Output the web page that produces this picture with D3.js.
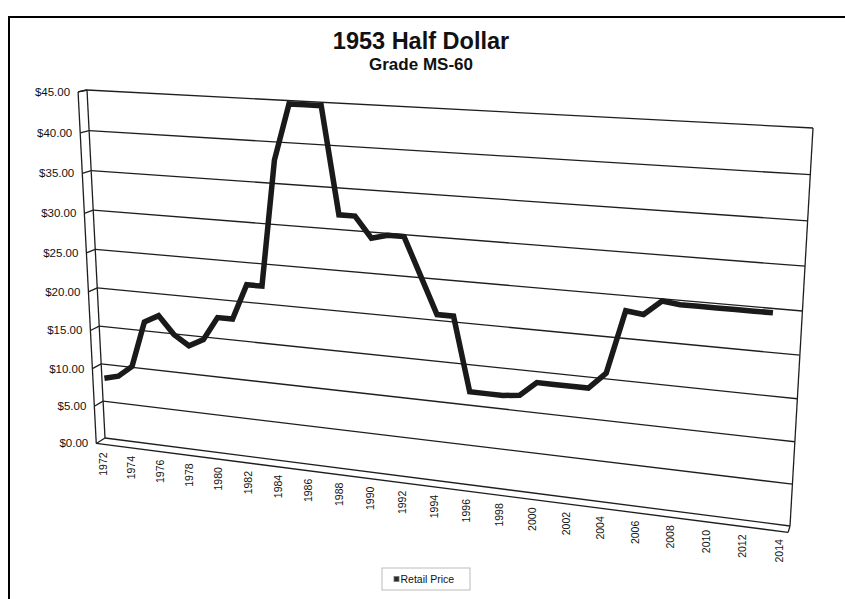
<!DOCTYPE html>
<html><head><meta charset="utf-8">
<script src="https://cdn.jsdelivr.net/npm/d3@7"></script>
<style>body{margin:0;background:#fff}svg{display:block}</style>
</head><body>
<svg id="c" width="845" height="599"></svg>
<script>
// ---------- data ----------
const years = ["1972","1973","1974","1975","1976","1977","1978","1979","1980","1981",
  "1982","1983","1984","1985","1986","1987","1988","1989","1990","1991",
  "1992","1993","1994","1995","1996","1997","1998","1999","2000","2001",
  "2002","2003","2004","2005","2006","2007","2008","2009","2010","2011",
  "2012","2013","2014"];
// Retail price, 1972 - 2013 (no value plotted for 2014)
const retailPrice = [8.5, 9, 10.5, 16.5, 17.5, 15.25, 14, 15, 18, 18,
  22.5, 22.5, 38, 44.75, 44.75, 44.75, 32, 32, 29.5, 30,
  30, 25.5, 21, 21, 12, 12, 12, 12.25, 14, 14,
  14, 14, 16, 23.5, 23.25, 25, 24.75, 24.75, 24.75, 24.75,
  24.75, 24.75];
const priceTicks = [0, 5, 10, 15, 20, 25, 30, 35, 40, 45];
const yearTickLabels = years.filter((d, i) => i % 2 === 0);
const chartTitle = "1953 Half Dollar";
const chartSubtitle = "Grade MS-60";
const seriesName = "Retail Price";

// ---------- layout (perspective back wall) ----------
const wallTL = [87, 90], wallTR = [813, 128], wallBR = [790, 526], wallBL = [105, 438];
const vanish = [979, -108];
const depthK = 0.01;

function squareToQuad(p0, p1, p2, p3) {
  const [x0, y0] = p0, [x1, y1] = p1, [x2, y2] = p2, [x3, y3] = p3;
  const dx1 = x1 - x2, dx2 = x3 - x2, dx3 = x0 - x1 + x2 - x3;
  const dy1 = y1 - y2, dy2 = y3 - y2, dy3 = y0 - y1 + y2 - y3;
  const det = dx1 * dy2 - dx2 * dy1;
  const g = (dx3 * dy2 - dx2 * dy3) / det, h = (dx1 * dy3 - dx3 * dy1) / det;
  const a = x1 - x0 + g * x1, b = x3 - x0 + h * x3, c = x0;
  const d = y1 - y0 + g * y1, e = y3 - y0 + h * y3, f = y0;
  return (s, t) => { const w = g * s + h * t + 1; return [(a * s + b * t + c) / w, (d * s + e * t + f) / w]; };
}
const back = squareToQuad(wallTL, wallTR, wallBR, wallBL);
function project(s, t, z) {
  const p = back(s, t);
  const k = z * depthK;
  return [p[0] + k * (p[0] - vanish[0]), p[1] + k * (p[1] - vanish[1])];
}

// scales: category -> s in [0,1], value -> t in [0,1]
const xs = d3.scaleBand().domain(years).range([0, 1]).paddingInner(0).paddingOuter(0);
const ys = d3.scaleLinear().domain([0, 45]).range([1, 0]);
const sc = c => xs(c) + xs.bandwidth() / 2;

const svg = d3.select("#c");
const ink = "#1e1e1e";
const font = "Liberation Sans, Arial, Helvetica, sans-serif";

// outer border
svg.append("rect").attr("x", 9).attr("y", 17).attr("width", 900).attr("height", 700)
  .attr("fill", "none").attr("stroke", "#000").attr("stroke-width", 2);

// titles
svg.append("text").attr("x", 421).attr("y", 49).attr("text-anchor", "middle")
  .attr("font-family", font).attr("font-weight", "bold")
  .attr("font-size", 23.5).attr("fill", "#111").text(chartTitle);
svg.append("text").attr("x", 421).attr("y", 70).attr("text-anchor", "middle")
  .attr("font-family", font).attr("font-weight", "bold")
  .attr("font-size", 17).attr("fill", "#111").text(chartSubtitle);

const seg = (a, b) => svg.append("line").attr("x1", a[0]).attr("y1", a[1]).attr("x2", b[0]).attr("y2", b[1])
  .attr("stroke", ink).attr("stroke-width", 1.3);

// gridlines on back wall and left side wall
priceTicks.forEach(v => {
  const t = ys(v);
  seg(project(0, t, 1), project(0, t, 0));
  seg(project(0, t, 0), project(1, t, 0));
});
// wall / floor edges
seg(project(0, 0, 0), project(0, 1, 0));
seg(project(1, 0, 0), project(1, 1, 0));
seg(project(0, 0, 1), project(0, 1, 1));
seg(project(0, 0, 1), project(0, 0, 0));
seg(project(0, 1, 1), project(1, 1, 1));
seg(project(1, 1, 1), project(1, 1, 0));

// y labels
svg.append("g").selectAll("text").data(priceTicks).join("text")
  .attr("x", d => project(0, ys(d), 1)[0] - 8)
  .attr("y", d => project(0, ys(d), 1)[1])
  .attr("dy", "0.35em").attr("text-anchor", "end")
  .attr("font-family", font).attr("font-size", 11.5).attr("fill", "#111")
  .text(d => "$" + d3.format(".2f")(d));

// x labels (rotated)
svg.append("g").selectAll("text").data(yearTickLabels).join("text")
  .attr("transform", d => { const p = project(sc(d), 1, 1); return `translate(${p[0]},${p[1] + 8}) rotate(-90)`; })
  .attr("dy", "0.35em").attr("text-anchor", "end")
  .attr("font-family", font).attr("font-size", 10.5).attr("fill", "#111")
  .text(d => d);

// series line at mid depth
const pts = retailPrice.map((v, i) => project(sc(years[i]), ys(v), 0.5));
svg.append("path").attr("d", d3.line()(pts)).attr("fill", "none")
  .attr("stroke", "#1a1a1a").attr("stroke-width", 5.5).attr("stroke-linejoin", "miter").attr("stroke-miterlimit", 3);

// legend
svg.append("rect").attr("x", 382).attr("y", 568).attr("width", 88).attr("height", 22)
  .attr("fill", "#fff").attr("stroke", "#bbb").attr("stroke-width", 1);
svg.append("rect").attr("x", 394).attr("y", 576.5).attr("width", 5).attr("height", 5)
  .attr("fill", "#2a2a2a").attr("stroke", "#777").attr("stroke-width", 0.8);
svg.append("text").attr("x", 400.5).attr("y", 579.5).attr("dy", "0.35em")
  .attr("font-family", font).attr("font-size", 10.5).attr("fill", "#111")
  .text(seriesName);
</script>
</body></html>
